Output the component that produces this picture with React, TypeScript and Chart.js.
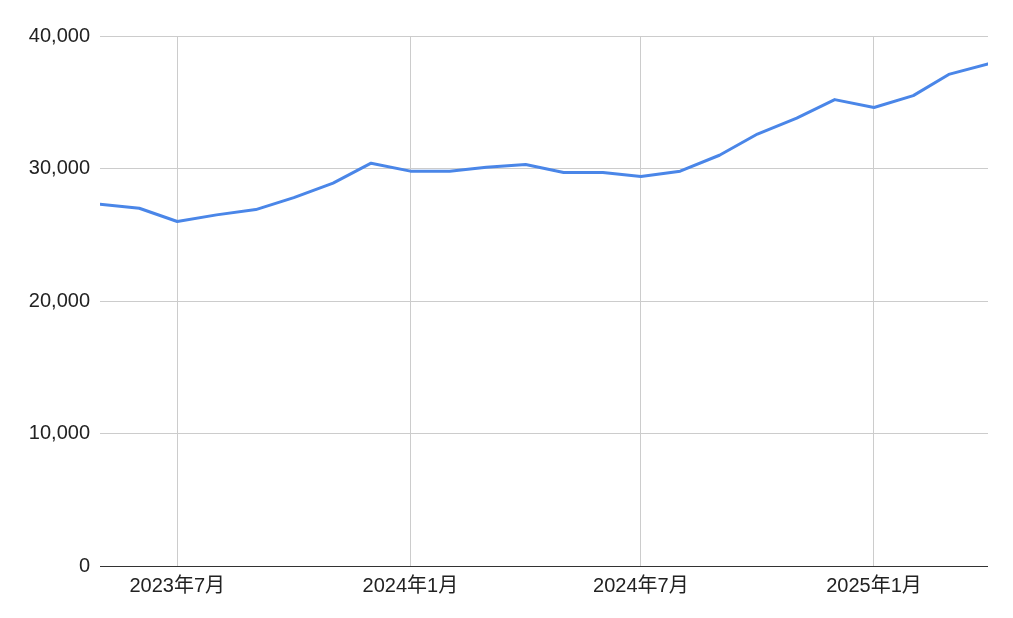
import React, { useEffect, useRef } from "react";
import { Chart, registerables } from "chart.js";

Chart.register(...registerables);

const months = [
  "2023-05", "2023-06", "2023-07", "2023-08", "2023-09", "2023-10", "2023-11", "2023-12",
  "2024-01", "2024-02", "2024-03", "2024-04", "2024-05", "2024-06", "2024-07", "2024-08",
  "2024-09", "2024-10", "2024-11", "2024-12", "2025-01", "2025-02", "2025-03", "2025-04",
];

const values = [
  27300, 27000, 26000, 26500, 26900, 27800, 28900, 30400,
  29800, 29800, 30100, 30300, 29700, 29700, 29400, 29800,
  31000, 32600, 33800, 35200, 34600, 35500, 37100, 37900,
];

const tickMonths = ["2023-07", "2024-01", "2024-07", "2025-01"];
const tickLabels = ["2023年7月", "2024年1月", "2024年7月", "2025年1月"];

const yTicks = [0, 10000, 20000, 30000, 40000];

const dayOf = (m: string) => {
  const [y, mo] = m.split("-").map(Number);
  const base = Date.UTC(2023, 4, 1);
  return (Date.UTC(y, mo - 1, 1) - base) / 86400000;
};

const FONT = "'Liberation Sans', Arial, 'Noto Sans CJK JP', sans-serif";

export default function App() {
  const ref = useRef<HTMLCanvasElement | null>(null);

  useEffect(() => {
    if (!ref.current) return;
    const chart = new Chart(ref.current, {
      type: "line",
      data: {
        datasets: [
          {
            data: months.map((m, i) => ({ x: dayOf(m), y: values[i] })),
            borderColor: "#4a86e8",
            borderWidth: 3,
            pointRadius: 0,
            tension: 0,
            fill: false,
            borderJoinStyle: "round",
            borderCapStyle: "round",
          },
        ],
      },
      options: {
        animation: false,
        responsive: false,
        layout: { padding: { top: 36, right: 25, left: 0, bottom: 0 } },
        plugins: { legend: { display: false }, tooltip: { enabled: false } },
        scales: {
          x: {
            type: "linear",
            min: dayOf(months[0]),
            max: dayOf(months[months.length - 1]),
            afterBuildTicks: (scale: any) => {
              scale.ticks = tickMonths.map((m) => ({ value: dayOf(m) }));
            },
            afterFit: (scale: any) => {
              scale.height = 52;
            },
            ticks: {
              autoSkip: false,
              maxRotation: 0,
              padding: 8,
              color: "#222",
              font: { family: FONT, size: 20 },
              callback: (v: any) => {
                const idx = tickMonths.findIndex((m) => dayOf(m) === v);
                return idx >= 0 ? tickLabels[idx] : "";
              },
            },
            grid: { color: "#cccccc", lineWidth: 1, drawTicks: false },
            border: { display: false },
          },
          y: {
            min: 0,
            max: 40000,
            afterBuildTicks: (scale: any) => {
              scale.ticks = yTicks.map((v) => ({ value: v }));
            },
            afterFit: (scale: any) => {
              scale.width = 100;
            },
            ticks: {
              padding: 10,
              color: "#222",
              font: { family: FONT, size: 20 },
              callback: (v: any) => Number(v).toLocaleString("en-US"),
            },
            grid: {
              color: (ctx: any) => (ctx.tick && ctx.tick.value === 0 ? "#333333" : "#cccccc"),
              lineWidth: 1,
              drawTicks: false,
            },
            border: { display: false },
          },
        },
      },
    } as any);
    return () => chart.destroy();
  }, []);

  return (
    <div style={{ position: "absolute", left: 0, top: 0, width: 1013, height: 618, background: "#fff" }}>
      <canvas ref={ref} width={1013} height={618} />
    </div>
  );
}
